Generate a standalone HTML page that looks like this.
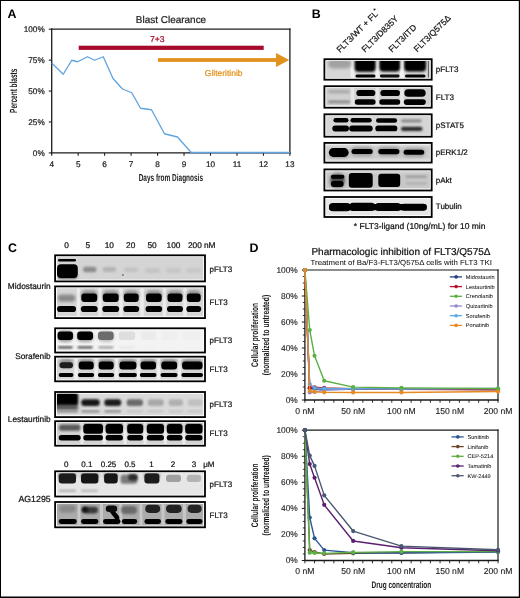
<!DOCTYPE html>
<html><head><meta charset="utf-8"><style>
html,body{margin:0;padding:0;background:#fff;}
body{width:520px;height:598px;overflow:hidden;font-family:"Liberation Sans", sans-serif;}
svg{display:block;will-change:transform;text-rendering:geometricPrecision;}
</style></head><body>
<svg width="520" height="598" viewBox="0 0 520 598" font-family='"Liberation Sans", sans-serif'><defs><filter id="bl3" x="-50%" y="-50%" width="200%" height="200%"><feGaussianBlur stdDeviation="0.3"/></filter><filter id="bl5" x="-50%" y="-50%" width="200%" height="200%"><feGaussianBlur stdDeviation="0.5"/></filter><filter id="bl6" x="-50%" y="-50%" width="200%" height="200%"><feGaussianBlur stdDeviation="0.6"/></filter><filter id="bl7" x="-50%" y="-50%" width="200%" height="200%"><feGaussianBlur stdDeviation="0.7"/></filter><filter id="bl8" x="-50%" y="-50%" width="200%" height="200%"><feGaussianBlur stdDeviation="0.8"/></filter><filter id="bl9" x="-50%" y="-50%" width="200%" height="200%"><feGaussianBlur stdDeviation="0.9"/></filter><filter id="bl10" x="-50%" y="-50%" width="200%" height="200%"><feGaussianBlur stdDeviation="1.0"/></filter><filter id="bl12" x="-50%" y="-50%" width="200%" height="200%"><feGaussianBlur stdDeviation="1.2"/></filter><filter id="bl15" x="-50%" y="-50%" width="200%" height="200%"><feGaussianBlur stdDeviation="1.5"/></filter><filter id="bl20" x="-50%" y="-50%" width="200%" height="200%"><feGaussianBlur stdDeviation="2.0"/></filter></defs><rect x="0" y="0" width="520" height="1" fill="#000" />
<rect x="0" y="0" width="1" height="598" fill="#000" />
<rect x="518.8" y="0" width="1.2" height="598" fill="#000" />
<rect x="0" y="596.5" width="520" height="1.5" fill="#000" />
<text x="7.6" y="17.9" font-size="12.4" text-anchor="start" fill="#000" font-weight="bold" >A</text>
<text x="135.8" y="23.4" font-size="9.97" text-anchor="start" fill="#222" font-weight="normal" stroke="#222" stroke-width="0.22" >Blast Clearance</text>
<line x1="51.7" y1="28.599999999999998" x2="51.7" y2="153.5" stroke="#1c1c1c" stroke-width="1.3" />
<line x1="51.1" y1="29.2" x2="290.5" y2="29.2" stroke="#1c1c1c" stroke-width="1.3" />
<line x1="289.9" y1="28.599999999999998" x2="289.9" y2="153.5" stroke="#1c1c1c" stroke-width="1.3" />
<line x1="51.1" y1="152.9" x2="290.5" y2="152.9" stroke="#1c1c1c" stroke-width="1.3" />
<line x1="48.8" y1="29.2" x2="51.7" y2="29.2" stroke="#1c1c1c" stroke-width="1.1" />
<text x="44.7" y="32.1" font-size="8.2" text-anchor="end" fill="#222" font-weight="normal" stroke="#222" stroke-width="0.22" >100%</text>
<line x1="48.8" y1="60.125" x2="51.7" y2="60.125" stroke="#1c1c1c" stroke-width="1.1" />
<text x="44.7" y="63.025" font-size="8.2" text-anchor="end" fill="#222" font-weight="normal" stroke="#222" stroke-width="0.22" >75%</text>
<line x1="48.8" y1="91.05" x2="51.7" y2="91.05" stroke="#1c1c1c" stroke-width="1.1" />
<text x="44.7" y="93.95" font-size="8.2" text-anchor="end" fill="#222" font-weight="normal" stroke="#222" stroke-width="0.22" >50%</text>
<line x1="48.8" y1="121.97500000000001" x2="51.7" y2="121.97500000000001" stroke="#1c1c1c" stroke-width="1.1" />
<text x="44.7" y="124.87500000000001" font-size="8.2" text-anchor="end" fill="#222" font-weight="normal" stroke="#222" stroke-width="0.22" >25%</text>
<line x1="48.8" y1="152.9" x2="51.7" y2="152.9" stroke="#1c1c1c" stroke-width="1.1" />
<text x="44.7" y="155.8" font-size="8.2" text-anchor="end" fill="#222" font-weight="normal" stroke="#222" stroke-width="0.22" >0%</text>
<line x1="51.7" y1="152.9" x2="51.7" y2="155.70000000000002" stroke="#1c1c1c" stroke-width="1.1" />
<text x="51.7" y="167.0" font-size="8.2" text-anchor="middle" fill="#222" font-weight="normal" stroke="#222" stroke-width="0.22" >4</text>
<line x1="78.16666666666667" y1="152.9" x2="78.16666666666667" y2="155.70000000000002" stroke="#1c1c1c" stroke-width="1.1" />
<text x="78.16666666666667" y="167.0" font-size="8.2" text-anchor="middle" fill="#222" font-weight="normal" stroke="#222" stroke-width="0.22" >5</text>
<line x1="104.63333333333333" y1="152.9" x2="104.63333333333333" y2="155.70000000000002" stroke="#1c1c1c" stroke-width="1.1" />
<text x="104.63333333333333" y="167.0" font-size="8.2" text-anchor="middle" fill="#222" font-weight="normal" stroke="#222" stroke-width="0.22" >6</text>
<line x1="131.1" y1="152.9" x2="131.1" y2="155.70000000000002" stroke="#1c1c1c" stroke-width="1.1" />
<text x="131.1" y="167.0" font-size="8.2" text-anchor="middle" fill="#222" font-weight="normal" stroke="#222" stroke-width="0.22" >7</text>
<line x1="157.56666666666666" y1="152.9" x2="157.56666666666666" y2="155.70000000000002" stroke="#1c1c1c" stroke-width="1.1" />
<text x="157.56666666666666" y="167.0" font-size="8.2" text-anchor="middle" fill="#222" font-weight="normal" stroke="#222" stroke-width="0.22" >8</text>
<line x1="184.03333333333336" y1="152.9" x2="184.03333333333336" y2="155.70000000000002" stroke="#1c1c1c" stroke-width="1.1" />
<text x="184.03333333333336" y="167.0" font-size="8.2" text-anchor="middle" fill="#222" font-weight="normal" stroke="#222" stroke-width="0.22" >9</text>
<line x1="210.5" y1="152.9" x2="210.5" y2="155.70000000000002" stroke="#1c1c1c" stroke-width="1.1" />
<text x="210.5" y="167.0" font-size="8.2" text-anchor="middle" fill="#222" font-weight="normal" stroke="#222" stroke-width="0.22" >10</text>
<line x1="236.96666666666664" y1="152.9" x2="236.96666666666664" y2="155.70000000000002" stroke="#1c1c1c" stroke-width="1.1" />
<text x="236.96666666666664" y="167.0" font-size="8.2" text-anchor="middle" fill="#222" font-weight="normal" stroke="#222" stroke-width="0.22" >11</text>
<line x1="263.43333333333334" y1="152.9" x2="263.43333333333334" y2="155.70000000000002" stroke="#1c1c1c" stroke-width="1.1" />
<text x="263.43333333333334" y="167.0" font-size="8.2" text-anchor="middle" fill="#222" font-weight="normal" stroke="#222" stroke-width="0.22" >12</text>
<line x1="289.9" y1="152.9" x2="289.9" y2="155.70000000000002" stroke="#1c1c1c" stroke-width="1.1" />
<text x="289.9" y="167.0" font-size="8.2" text-anchor="middle" fill="#222" font-weight="normal" stroke="#222" stroke-width="0.22" >13</text>
<text x="138.7" y="181.0" font-size="10.1" text-anchor="start" fill="#1a1a1a" font-weight="bold" textLength="64.3" lengthAdjust="spacingAndGlyphs">Days from Diagnosis</text>
<text transform="translate(17.2,112.9) rotate(-90)" font-size="10.3" font-weight="bold" fill="#1a1a1a" textLength="44.2" lengthAdjust="spacingAndGlyphs">Percent blasts</text>
<rect x="78.7" y="45.7" width="185.0" height="4.2" fill="#a80a2c" />
<text x="150.0" y="41.5" font-size="8.6" text-anchor="start" fill="#a80a2c" font-weight="normal" stroke="#a80a2c" stroke-width="0.22" >7+3</text>
<rect x="158.0" y="58.1" width="120" height="3.8" fill="#e2911d" />
<polygon points="276,53 289.2,60 276,67" fill="#e2911d"/>
<text x="204.8" y="76.2" font-size="8.5" text-anchor="start" fill="#e2911d" font-weight="normal" stroke="#e2911d" stroke-width="0.22" >Gilteritinib</text>
<polyline fill="none" stroke="#5fa3de" stroke-width="1.3" stroke-linejoin="round" points="51.7,63 63.25,74.25 71.75,60.25 77.5,61.75 87.5,56.75 94.5,60.25 103.25,56.75 113,78.5 122.5,89 131.75,92.75 140.5,108.25 151.5,109.75 164.5,133.75 177.5,137 191.25,152.5 290,152.5"/>
<text x="311.8" y="17.9" font-size="12.4" text-anchor="start" fill="#000" font-weight="bold" >B</text>
<text transform="translate(339.9,53.1) rotate(-45)" font-size="8.5" fill="#111" stroke="#111" stroke-width="0.22">FLT3/WT + FL<tspan font-size="5.5" dy="-3.6">*</tspan></text>
<text transform="translate(365.1,52.8) rotate(-45)" font-size="8.5" fill="#111" stroke="#111" stroke-width="0.22">FLT3/D835Y</text>
<text transform="translate(392.1,52.8) rotate(-45)" font-size="8.5" fill="#111" stroke="#111" stroke-width="0.22">FLT3/ITD</text>
<text transform="translate(417.3,52.5) rotate(-45)" font-size="8.5" fill="#111" stroke="#111" stroke-width="0.22">FLT3/Q575Δ</text>
<rect x="324.4" y="59.199999999999996" width="107.30000000000003" height="20.499999999999996" fill="#fff" stroke="#000" stroke-width="1.8"/>
<rect x="326.2" y="60.99999999999999" width="103.70000000000005" height="16.9" fill="#d6d6d6"/>
<clipPath id="c55"><rect x="326.2" y="60.99999999999999" width="103.70000000000005" height="16.9"/></clipPath>
<g clip-path="url(#c55)">

<rect x="350.50" y="58.00" width="4.00" height="23.00" rx="0.00" fill="#f0f0f0" filter="url(#bl2)"/>
<rect x="375.30" y="58.00" width="4.00" height="23.00" rx="0.00" fill="#f0f0f0" filter="url(#bl2)"/>
<rect x="400.00" y="58.00" width="4.00" height="23.00" rx="0.00" fill="#f0f0f0" filter="url(#bl2)"/>
<rect x="328.00" y="59.00" width="23.50" height="9.50" rx="4.75" fill="#a2a2a2" filter="url(#bl15)"/>
<rect x="354.60" y="57.00" width="21.00" height="14.80" rx="4.00" fill="#000" filter="url(#bl10)"/>
<rect x="379.40" y="57.00" width="20.60" height="14.40" rx="4.00" fill="#000" filter="url(#bl10)"/>
<rect x="404.20" y="57.00" width="21.80" height="14.60" rx="4.00" fill="#000" filter="url(#bl10)"/>
<rect x="355.50" y="74.40" width="20.00" height="3.20" rx="1.60" fill="#000" filter="url(#bl6)"/>
<rect x="380.00" y="74.50" width="19.50" height="2.90" rx="1.45" fill="#080808" filter="url(#bl6)"/>
<rect x="405.00" y="74.40" width="20.50" height="3.20" rx="1.60" fill="#000" filter="url(#bl6)"/>
<rect x="427.90" y="60.00" width="0.90" height="17.50" rx="0.00" fill="#444" filter="url(#bl3)"/>
</g>
<rect x="324.4" y="86.2" width="107.30000000000003" height="21.499999999999996" fill="#fff" stroke="#000" stroke-width="1.8"/>
<rect x="326.2" y="88.0" width="103.70000000000005" height="17.89999999999999" fill="#d0d0d0"/>
<clipPath id="c72"><rect x="326.2" y="88.0" width="103.70000000000005" height="17.89999999999999"/></clipPath>
<g clip-path="url(#c72)">
<rect x="324" y="105.4" width="108" height="3" fill="#eee"/>
<rect x="350.75" y="85.00" width="3.50" height="24.00" rx="0.00" fill="#e6e6e6" filter="url(#bl2)"/>
<rect x="375.55" y="85.00" width="3.50" height="24.00" rx="0.00" fill="#e6e6e6" filter="url(#bl2)"/>
<rect x="400.25" y="85.00" width="3.50" height="24.00" rx="0.00" fill="#e6e6e6" filter="url(#bl2)"/>
<rect x="328.00" y="89.80" width="22.00" height="3.70" rx="1.85" fill="#acacac" filter="url(#bl12)"/>
<rect x="328.00" y="100.60" width="22.00" height="2.60" rx="1.30" fill="#8a8a8a" filter="url(#bl10)"/>
<rect x="356.30" y="89.90" width="19.10" height="6.20" rx="3.10" fill="#000" filter="url(#bl6)"/>
<rect x="380.30" y="89.90" width="19.70" height="6.20" rx="3.10" fill="#050505" filter="url(#bl6)"/>
<rect x="404.30" y="89.20" width="21.40" height="7.60" rx="3.80" fill="#000" filter="url(#bl6)"/>
<rect x="354.80" y="99.30" width="20.80" height="5.40" rx="2.70" fill="#000" filter="url(#bl6)"/>
<rect x="379.30" y="99.30" width="20.90" height="5.40" rx="2.70" fill="#050505" filter="url(#bl6)"/>
<rect x="403.80" y="99.30" width="22.00" height="5.60" rx="2.80" fill="#000" filter="url(#bl6)"/>
</g>
<rect x="324.4" y="114.30000000000001" width="107.30000000000003" height="22.399999999999988" fill="#fff" stroke="#000" stroke-width="1.8"/>
<rect x="326.2" y="116.10000000000001" width="103.70000000000005" height="18.79999999999997" fill="#d6d6d6"/>
<clipPath id="c89"><rect x="326.2" y="116.10000000000001" width="103.70000000000005" height="18.79999999999997"/></clipPath>
<g clip-path="url(#c89)">

<rect x="333.40" y="118.00" width="15.10" height="4.60" rx="2.30" fill="#000" filter="url(#bl6)"/>
<rect x="350.40" y="118.00" width="21.30" height="4.60" rx="2.30" fill="#000" filter="url(#bl6)"/>
<rect x="376.00" y="118.30" width="21.10" height="4.50" rx="2.25" fill="#000" filter="url(#bl6)"/>
<rect x="401.00" y="119.20" width="20.70" height="3.20" rx="1.60" fill="#8c8c8c" filter="url(#bl12)"/>
<rect x="332.30" y="125.60" width="16.70" height="5.90" rx="2.95" fill="#000" filter="url(#bl6)"/>
<rect x="349.20" y="125.60" width="23.50" height="5.90" rx="2.95" fill="#000" filter="url(#bl6)"/>
<rect x="375.30" y="125.60" width="22.10" height="5.70" rx="2.85" fill="#000" filter="url(#bl6)"/>
<rect x="401.00" y="126.80" width="21.50" height="4.20" rx="2.10" fill="#2c2c2c" filter="url(#bl10)"/>
</g>
<rect x="324.4" y="142.9" width="107.30000000000003" height="19.7" fill="#fff" stroke="#000" stroke-width="1.8"/>
<rect x="326.2" y="144.70000000000002" width="103.70000000000005" height="16.099999999999966" fill="#cccccc"/>
<clipPath id="c103"><rect x="326.2" y="144.70000000000002" width="103.70000000000005" height="16.099999999999966"/></clipPath>
<g clip-path="url(#c103)">
<rect x="324" y="143" width="108" height="3" fill="#e4e4e4" filter="url(#bl15)"/><rect x="324" y="159.5" width="108" height="3" fill="#e8e8e8" filter="url(#bl15)"/>
<rect x="351.00" y="147.00" width="22.00" height="9.00" rx="4.50" fill="#9a9a9a" filter="url(#bl15)"/>
<rect x="378.00" y="147.00" width="22.00" height="9.00" rx="4.50" fill="#9a9a9a" filter="url(#bl15)"/>
<rect x="403.00" y="148.00" width="22.00" height="9.00" rx="4.50" fill="#a0a0a0" filter="url(#bl15)"/>
<rect x="330.00" y="154.00" width="18.00" height="4.00" rx="2.00" fill="#9a9a9a" filter="url(#bl15)"/>
<rect x="328.80" y="148.10" width="19.90" height="8.80" rx="4.40" fill="#000" filter="url(#bl6)"/>
<rect x="351.50" y="148.90" width="21.20" height="5.00" rx="2.50" fill="#000" filter="url(#bl6)"/>
<rect x="378.30" y="148.90" width="21.10" height="5.30" rx="2.65" fill="#000" filter="url(#bl6)"/>
<rect x="403.60" y="149.80" width="20.60" height="5.00" rx="2.50" fill="#000" filter="url(#bl6)"/>
</g>
<rect x="324.4" y="169.4" width="107.30000000000003" height="21.100000000000005" fill="#fff" stroke="#000" stroke-width="1.8"/>
<rect x="326.2" y="171.20000000000002" width="103.70000000000005" height="17.49999999999997" fill="#c8c8c8"/>
<clipPath id="c117"><rect x="326.2" y="171.20000000000002" width="103.70000000000005" height="17.49999999999997"/></clipPath>
<g clip-path="url(#c117)">
<rect x="324" y="188.4" width="108" height="1.5" fill="#f4f4f4"/><rect x="324" y="169" width="108" height="3" fill="#e0e0e0" filter="url(#bl15)"/>
<rect x="329.50" y="172.50" width="16.00" height="16.50" rx="8.00" fill="#8a8a8a" filter="url(#bl15)"/>
<rect x="331.00" y="176.00" width="13.00" height="8.00" rx="4.00" fill="#4a4a4a" filter="url(#bl12)"/>
<rect x="330.80" y="174.70" width="13.60" height="4.00" rx="2.00" fill="#000" filter="url(#bl6)"/>
<rect x="330.80" y="181.00" width="12.90" height="6.00" rx="3.00" fill="#050505" filter="url(#bl6)"/>
<rect x="348.80" y="173.10" width="23.90" height="14.60" rx="3.00" fill="#000" filter="url(#bl6)"/>
<rect x="378.30" y="173.70" width="21.90" height="13.40" rx="3.00" fill="#000" filter="url(#bl6)"/>
<rect x="405.60" y="175.40" width="21.30" height="2.50" rx="1.25" fill="#9c9c9c" filter="url(#bl12)"/>
<rect x="405.60" y="182.20" width="21.30" height="2.30" rx="1.15" fill="#adadad" filter="url(#bl12)"/>
</g>
<rect x="324.4" y="197.0" width="107.30000000000003" height="20.00000000000001" fill="#fff" stroke="#000" stroke-width="1.8"/>
<rect x="326.2" y="198.8" width="103.70000000000005" height="16.399999999999977" fill="#e8e8e8"/>
<clipPath id="c131"><rect x="326.2" y="198.8" width="103.70000000000005" height="16.399999999999977"/></clipPath>
<g clip-path="url(#c131)">

<rect x="329.00" y="204.10" width="97.70" height="6.20" rx="2.50" fill="#000" filter="url(#bl6)"/>
<rect x="329.00" y="203.00" width="21.70" height="8.30" rx="3.80" fill="#000" filter="url(#bl6)"/>
<rect x="349.30" y="202.70" width="25.90" height="8.40" rx="3.80" fill="#000" filter="url(#bl6)"/>
<rect x="374.80" y="203.00" width="26.40" height="8.10" rx="3.80" fill="#000" filter="url(#bl6)"/>
<rect x="400.80" y="203.70" width="25.90" height="7.00" rx="3.20" fill="#000" filter="url(#bl6)"/>
</g>
<text x="435.8" y="71.9" font-size="8.0" text-anchor="start" fill="#111" font-weight="normal" stroke="#111" stroke-width="0.22" >pFLT3</text>
<text x="435.8" y="99.7" font-size="8.0" text-anchor="start" fill="#111" font-weight="normal" stroke="#111" stroke-width="0.22" >FLT3</text>
<text x="435.8" y="127.7" font-size="8.0" text-anchor="start" fill="#111" font-weight="normal" stroke="#111" stroke-width="0.22" >pSTAT5</text>
<text x="435.8" y="155.2" font-size="8.0" text-anchor="start" fill="#111" font-weight="normal" stroke="#111" stroke-width="0.22" >pERK1/2</text>
<text x="435.8" y="182.7" font-size="8.0" text-anchor="start" fill="#111" font-weight="normal" stroke="#111" stroke-width="0.22" >pAkt</text>
<text x="435.8" y="208.8" font-size="8.0" text-anchor="start" fill="#111" font-weight="normal" stroke="#111" stroke-width="0.22" >Tubulin</text>
<text x="353.8" y="228.5" font-size="8.5" text-anchor="start" fill="#111" font-weight="normal" stroke="#111" stroke-width="0.22" >* FLT3-ligand (10ng/mL) for 10 min</text>
<text x="8.0" y="252.0" font-size="12.4" text-anchor="start" fill="#000" font-weight="bold" >C</text>
<text x="66.5" y="247.9" font-size="8.3" text-anchor="middle" fill="#111" font-weight="normal" stroke="#111" stroke-width="0.22" >0</text>
<text x="87.9" y="247.9" font-size="8.3" text-anchor="middle" fill="#111" font-weight="normal" stroke="#111" stroke-width="0.22" >5</text>
<text x="109.3" y="247.9" font-size="8.3" text-anchor="middle" fill="#111" font-weight="normal" stroke="#111" stroke-width="0.22" >10</text>
<text x="130.7" y="247.9" font-size="8.3" text-anchor="middle" fill="#111" font-weight="normal" stroke="#111" stroke-width="0.22" >20</text>
<text x="152.1" y="247.9" font-size="8.3" text-anchor="middle" fill="#111" font-weight="normal" stroke="#111" stroke-width="0.22" >50</text>
<text x="173.5" y="247.9" font-size="8.3" text-anchor="middle" fill="#111" font-weight="normal" stroke="#111" stroke-width="0.22" >100</text>
<text x="194.89999999999998" y="247.9" font-size="8.3" text-anchor="middle" fill="#111" font-weight="normal" stroke="#111" stroke-width="0.22" >200</text>
<text x="203.9" y="247.9" font-size="8.3" text-anchor="start" fill="#111" font-weight="normal" stroke="#111" stroke-width="0.22" >nM</text>
<rect x="55.1" y="255.3" width="149.89999999999998" height="26.100000000000005" fill="#fff" stroke="#000" stroke-width="1.8"/>
<rect x="56.9" y="257.09999999999997" width="146.29999999999998" height="22.500000000000057" fill="#d4d4d4"/>
<clipPath id="c158"><rect x="56.9" y="257.09999999999997" width="146.29999999999998" height="22.500000000000057"/></clipPath>
<g clip-path="url(#c158)">

<rect x="58.00" y="258.90" width="18.00" height="2.70" rx="1.35" fill="#000" filter="url(#bl6)"/>
<rect x="57.80" y="272.00" width="19.50" height="9.00" rx="4.50" fill="#8a8a8a" filter="url(#bl12)"/>
<rect x="57.00" y="264.30" width="20.80" height="13.60" rx="4.00" fill="#000" filter="url(#bl6)"/>
<rect x="83.00" y="266.80" width="13.50" height="5.40" rx="2.70" fill="#8c8c8c" filter="url(#bl12)"/>
<rect x="102.60" y="267.00" width="13.40" height="5.00" rx="2.50" fill="#b4b4b4" filter="url(#bl12)"/>
<rect x="124.00" y="267.50" width="14.00" height="4.50" rx="2.25" fill="#c2c2c2" filter="url(#bl12)"/>
<rect x="145.00" y="268.00" width="15.00" height="5.00" rx="2.50" fill="#c4c4c4" filter="url(#bl12)"/>
<rect x="166.00" y="268.00" width="15.00" height="5.00" rx="2.50" fill="#c6c6c6" filter="url(#bl12)"/>
<rect x="186.00" y="268.00" width="15.00" height="5.00" rx="2.50" fill="#c8c8c8" filter="url(#bl12)"/>
<rect x="122.30" y="274.30" width="1.20" height="1.20" rx="0.50" fill="#111" filter="url(#bl3)"/>
</g>
<rect x="55.1" y="286.4" width="149.89999999999998" height="31.7" fill="#fff" stroke="#000" stroke-width="1.8"/>
<rect x="56.9" y="288.2" width="146.29999999999998" height="28.100000000000023" fill="#d6d6d6"/>
<clipPath id="c174"><rect x="56.9" y="288.2" width="146.29999999999998" height="28.100000000000023"/></clipPath>
<g clip-path="url(#c174)">

<rect x="76.75" y="286.00" width="3.50" height="33.00" rx="0.00" fill="#ececec" filter="url(#bl2)"/>
<rect x="98.25" y="286.00" width="3.50" height="33.00" rx="0.00" fill="#ececec" filter="url(#bl2)"/>
<rect x="119.25" y="286.00" width="3.50" height="33.00" rx="0.00" fill="#ececec" filter="url(#bl2)"/>
<rect x="140.25" y="286.00" width="3.50" height="33.00" rx="0.00" fill="#ececec" filter="url(#bl2)"/>
<rect x="162.75" y="286.00" width="3.50" height="33.00" rx="0.00" fill="#ececec" filter="url(#bl2)"/>
<rect x="183.25" y="286.00" width="3.50" height="33.00" rx="0.00" fill="#ececec" filter="url(#bl2)"/>
<rect x="57.70" y="294.60" width="17.70" height="7.20" rx="3.60" fill="#8a8a8a" filter="url(#bl15)"/>
<rect x="57.00" y="305.90" width="19.10" height="6.20" rx="3.10" fill="#000" filter="url(#bl6)"/>
<rect x="81.00" y="290.50" width="16.50" height="9.50" rx="4.75" fill="#8c8c8c" filter="url(#bl15)"/>
<rect x="81.30" y="293.50" width="15.90" height="8.60" rx="3.00" fill="#000" filter="url(#bl6)"/>
<rect x="80.80" y="305.90" width="16.90" height="6.20" rx="3.10" fill="#000" filter="url(#bl6)"/>
<rect x="102.50" y="290.50" width="16.50" height="9.50" rx="4.75" fill="#8c8c8c" filter="url(#bl15)"/>
<rect x="102.80" y="293.50" width="15.90" height="8.60" rx="3.00" fill="#000" filter="url(#bl6)"/>
<rect x="102.30" y="305.90" width="16.90" height="6.20" rx="3.10" fill="#000" filter="url(#bl6)"/>
<rect x="123.50" y="290.50" width="15.50" height="9.50" rx="4.75" fill="#8c8c8c" filter="url(#bl15)"/>
<rect x="123.80" y="293.50" width="14.90" height="8.60" rx="3.00" fill="#000" filter="url(#bl6)"/>
<rect x="123.30" y="305.90" width="15.90" height="6.20" rx="3.10" fill="#000" filter="url(#bl6)"/>
<rect x="145.70" y="290.50" width="16.30" height="9.50" rx="4.75" fill="#8c8c8c" filter="url(#bl15)"/>
<rect x="146.00" y="293.50" width="15.70" height="8.60" rx="3.00" fill="#000" filter="url(#bl6)"/>
<rect x="145.50" y="305.90" width="16.70" height="6.20" rx="3.10" fill="#000" filter="url(#bl6)"/>
<rect x="167.20" y="290.50" width="15.60" height="9.50" rx="4.75" fill="#8c8c8c" filter="url(#bl15)"/>
<rect x="167.50" y="293.50" width="15.00" height="8.60" rx="3.00" fill="#000" filter="url(#bl6)"/>
<rect x="167.00" y="305.90" width="16.00" height="6.20" rx="3.10" fill="#000" filter="url(#bl6)"/>
<rect x="186.50" y="290.50" width="14.50" height="9.50" rx="4.75" fill="#8c8c8c" filter="url(#bl15)"/>
<rect x="186.80" y="293.50" width="13.90" height="8.60" rx="3.00" fill="#000" filter="url(#bl6)"/>
<rect x="186.30" y="305.90" width="14.90" height="6.20" rx="3.10" fill="#000" filter="url(#bl6)"/>
</g>
<rect x="55.1" y="328.29999999999995" width="149.89999999999998" height="24.2" fill="#fff" stroke="#000" stroke-width="1.8"/>
<rect x="56.9" y="330.09999999999997" width="146.29999999999998" height="20.600000000000023" fill="#f3f3f3"/>
<clipPath id="c206"><rect x="56.9" y="330.09999999999997" width="146.29999999999998" height="20.600000000000023"/></clipPath>
<g clip-path="url(#c206)">

<rect x="57.00" y="330.50" width="16.50" height="11.50" rx="5.75" fill="#9a9a9a" filter="url(#bl15)"/>
<rect x="77.00" y="331.50" width="16.50" height="10.50" rx="5.25" fill="#a0a0a0" filter="url(#bl15)"/>
<rect x="98.00" y="331.50" width="16.00" height="10.50" rx="5.25" fill="#c0c0c0" filter="url(#bl15)"/>
<rect x="57.60" y="331.50" width="15.40" height="8.60" rx="3.00" fill="#000" filter="url(#bl6)"/>
<rect x="57.80" y="346.20" width="15.00" height="2.20" rx="1.10" fill="#4a4a4a" filter="url(#bl8)"/>
<rect x="77.20" y="331.50" width="15.80" height="8.60" rx="3.00" fill="#000" filter="url(#bl6)"/>
<rect x="77.40" y="346.20" width="15.40" height="2.20" rx="1.10" fill="#505050" filter="url(#bl8)"/>
<rect x="98.00" y="331.50" width="15.70" height="8.60" rx="3.00" fill="#6c6c6c" filter="url(#bl6)"/>
<rect x="98.20" y="346.20" width="15.30" height="2.20" rx="1.10" fill="#9a9a9a" filter="url(#bl8)"/>
<rect x="118.80" y="331.50" width="16.40" height="8.60" rx="3.00" fill="#dedede" filter="url(#bl6)"/>
<rect x="119.00" y="346.20" width="16.00" height="2.20" rx="1.10" fill="#e6e6e6" filter="url(#bl8)"/>
<rect x="140.60" y="331.50" width="15.40" height="8.60" rx="3.00" fill="#ebebeb" filter="url(#bl6)"/>
<rect x="140.80" y="346.20" width="15.00" height="2.20" rx="1.10" fill="#f0f0f0" filter="url(#bl8)"/>
<rect x="161.30" y="331.50" width="15.80" height="8.60" rx="3.00" fill="#efefef" filter="url(#bl6)"/>
<rect x="161.50" y="346.20" width="15.40" height="2.20" rx="1.10" fill="#f2f2f2" filter="url(#bl8)"/>
<rect x="182.80" y="331.50" width="18.40" height="8.60" rx="3.00" fill="#efefef" filter="url(#bl6)"/>
<rect x="183.00" y="346.20" width="18.00" height="2.20" rx="1.10" fill="#f2f2f2" filter="url(#bl8)"/>
</g>
<rect x="55.1" y="356.7" width="149.89999999999998" height="24.599999999999977" fill="#fff" stroke="#000" stroke-width="1.8"/>
<rect x="56.9" y="358.5" width="146.29999999999998" height="21.0" fill="#d6d6d6"/>
<clipPath id="c229"><rect x="56.9" y="358.5" width="146.29999999999998" height="21.0"/></clipPath>
<g clip-path="url(#c229)">

<rect x="74.25" y="356.00" width="3.50" height="26.00" rx="0.00" fill="#eeeeee" filter="url(#bl2)"/>
<rect x="94.45" y="356.00" width="3.50" height="26.00" rx="0.00" fill="#eeeeee" filter="url(#bl2)"/>
<rect x="114.85" y="356.00" width="3.50" height="26.00" rx="0.00" fill="#eeeeee" filter="url(#bl2)"/>
<rect x="136.75" y="356.00" width="3.50" height="26.00" rx="0.00" fill="#eeeeee" filter="url(#bl2)"/>
<rect x="156.85" y="356.00" width="3.50" height="26.00" rx="0.00" fill="#eeeeee" filter="url(#bl2)"/>
<rect x="177.85" y="356.00" width="3.50" height="26.00" rx="0.00" fill="#eeeeee" filter="url(#bl2)"/>
<rect x="59.20" y="359.00" width="14.10" height="9.00" rx="4.50" fill="#909090" filter="url(#bl15)"/>
<rect x="59.50" y="362.20" width="13.50" height="6.10" rx="3.00" fill="#1c1c1c" filter="url(#bl6)"/>
<rect x="58.70" y="373.00" width="14.80" height="3.90" rx="1.95" fill="#000" filter="url(#bl6)"/>
<rect x="78.40" y="359.00" width="15.60" height="9.00" rx="4.50" fill="#909090" filter="url(#bl15)"/>
<rect x="78.70" y="361.50" width="15.00" height="8.00" rx="3.00" fill="#000" filter="url(#bl6)"/>
<rect x="77.90" y="373.00" width="16.30" height="3.90" rx="1.95" fill="#000" filter="url(#bl6)"/>
<rect x="98.40" y="359.00" width="15.60" height="9.00" rx="4.50" fill="#909090" filter="url(#bl15)"/>
<rect x="98.70" y="361.50" width="15.00" height="8.00" rx="3.00" fill="#000" filter="url(#bl6)"/>
<rect x="97.90" y="373.00" width="16.30" height="3.90" rx="1.95" fill="#000" filter="url(#bl6)"/>
<rect x="119.20" y="359.00" width="17.50" height="9.00" rx="4.50" fill="#909090" filter="url(#bl15)"/>
<rect x="119.50" y="361.50" width="16.90" height="8.00" rx="3.00" fill="#000" filter="url(#bl6)"/>
<rect x="118.70" y="373.00" width="18.20" height="3.90" rx="1.95" fill="#000" filter="url(#bl6)"/>
<rect x="140.30" y="359.00" width="16.00" height="9.00" rx="4.50" fill="#909090" filter="url(#bl15)"/>
<rect x="140.60" y="361.50" width="15.40" height="8.00" rx="3.00" fill="#000" filter="url(#bl6)"/>
<rect x="139.80" y="373.00" width="16.70" height="3.90" rx="1.95" fill="#000" filter="url(#bl6)"/>
<rect x="161.00" y="359.00" width="16.40" height="9.00" rx="4.50" fill="#909090" filter="url(#bl15)"/>
<rect x="161.30" y="361.50" width="15.80" height="8.00" rx="3.00" fill="#000" filter="url(#bl6)"/>
<rect x="160.50" y="373.00" width="17.10" height="3.90" rx="1.95" fill="#000" filter="url(#bl6)"/>
<rect x="181.80" y="359.00" width="21.00" height="9.00" rx="4.50" fill="#909090" filter="url(#bl15)"/>
<rect x="182.10" y="361.50" width="20.40" height="8.00" rx="3.00" fill="#000" filter="url(#bl6)"/>
<rect x="181.30" y="373.00" width="21.70" height="3.90" rx="1.95" fill="#000" filter="url(#bl6)"/>
</g>
<rect x="55.1" y="392.0" width="149.89999999999998" height="25.099999999999977" fill="#fff" stroke="#000" stroke-width="1.8"/>
<rect x="56.9" y="393.8" width="146.29999999999998" height="21.5" fill="#dadada"/>
<clipPath id="c262"><rect x="56.9" y="393.8" width="146.29999999999998" height="21.5"/></clipPath>
<g clip-path="url(#c262)">

<rect x="54.50" y="392.00" width="23.70" height="14.50" rx="4.00" fill="#000" filter="url(#bl10)"/>
<rect x="54.50" y="405.00" width="23.70" height="5.00" rx="2.50" fill="#555" filter="url(#bl15)"/>
<rect x="56.50" y="410.20" width="21.70" height="2.20" rx="1.10" fill="#8a8a8a" filter="url(#bl10)"/>
<rect x="81.20" y="399.30" width="18.50" height="6.60" rx="3.00" fill="#151515" filter="url(#bl10)"/>
<rect x="81.20" y="410.20" width="18.50" height="2.20" rx="1.10" fill="#8a8a8a" filter="url(#bl10)"/>
<rect x="104.30" y="399.30" width="16.90" height="6.60" rx="3.00" fill="#1c1c1c" filter="url(#bl10)"/>
<rect x="104.30" y="410.20" width="16.90" height="2.20" rx="1.10" fill="#8a8a8a" filter="url(#bl10)"/>
<rect x="126.60" y="399.30" width="16.40" height="6.60" rx="3.00" fill="#6a6a6a" filter="url(#bl10)"/>
<rect x="126.60" y="410.20" width="16.40" height="2.20" rx="1.10" fill="#c4c4c4" filter="url(#bl10)"/>
<rect x="147.70" y="399.30" width="16.10" height="6.60" rx="3.00" fill="#a8a8a8" filter="url(#bl10)"/>
<rect x="147.70" y="410.20" width="16.10" height="2.20" rx="1.10" fill="#c4c4c4" filter="url(#bl10)"/>
<rect x="168.50" y="399.30" width="14.50" height="6.60" rx="3.00" fill="#b0b0b0" filter="url(#bl10)"/>
<rect x="168.50" y="410.20" width="14.50" height="2.20" rx="1.10" fill="#c4c4c4" filter="url(#bl10)"/>
<rect x="187.70" y="399.30" width="14.60" height="6.60" rx="3.00" fill="#c0c0c0" filter="url(#bl10)"/>
<rect x="187.70" y="410.20" width="14.60" height="2.20" rx="1.10" fill="#c4c4c4" filter="url(#bl10)"/>
</g>
<rect x="55.1" y="421.2" width="149.89999999999998" height="24.50000000000001" fill="#fff" stroke="#000" stroke-width="1.8"/>
<rect x="56.9" y="423.0" width="146.29999999999998" height="20.900000000000034" fill="#d2d2d2"/>
<clipPath id="c283"><rect x="56.9" y="423.0" width="146.29999999999998" height="20.900000000000034"/></clipPath>
<g clip-path="url(#c283)">

<rect x="80.50" y="420.00" width="3.00" height="27.00" rx="0.00" fill="#ececec" filter="url(#bl2)"/>
<rect x="102.80" y="420.00" width="3.00" height="27.00" rx="0.00" fill="#ececec" filter="url(#bl2)"/>
<rect x="123.60" y="420.00" width="3.00" height="27.00" rx="0.00" fill="#ececec" filter="url(#bl2)"/>
<rect x="143.50" y="420.00" width="3.00" height="27.00" rx="0.00" fill="#ececec" filter="url(#bl2)"/>
<rect x="163.90" y="420.00" width="3.00" height="27.00" rx="0.00" fill="#ececec" filter="url(#bl2)"/>
<rect x="182.40" y="420.00" width="3.00" height="27.00" rx="0.00" fill="#ececec" filter="url(#bl2)"/>
<rect x="58.90" y="424.50" width="21.60" height="6.30" rx="3.15" fill="#5a5a5a" filter="url(#bl12)"/>
<rect x="58.70" y="435.10" width="22.00" height="5.40" rx="2.70" fill="#000" filter="url(#bl6)"/>
<rect x="83.00" y="422.50" width="20.30" height="9.50" rx="4.75" fill="#8a8a8a" filter="url(#bl15)"/>
<rect x="83.30" y="423.90" width="19.70" height="9.90" rx="3.00" fill="#000" filter="url(#bl6)"/>
<rect x="83.30" y="435.10" width="19.70" height="5.40" rx="2.70" fill="#000" filter="url(#bl6)"/>
<rect x="105.30" y="422.50" width="18.00" height="9.50" rx="4.75" fill="#8a8a8a" filter="url(#bl15)"/>
<rect x="105.60" y="423.90" width="17.40" height="9.90" rx="3.00" fill="#000" filter="url(#bl6)"/>
<rect x="105.60" y="435.10" width="17.40" height="5.40" rx="2.70" fill="#000" filter="url(#bl6)"/>
<rect x="126.90" y="422.50" width="16.60" height="9.50" rx="4.75" fill="#8a8a8a" filter="url(#bl15)"/>
<rect x="127.20" y="423.90" width="16.00" height="9.90" rx="3.00" fill="#000" filter="url(#bl6)"/>
<rect x="127.20" y="435.10" width="16.00" height="5.40" rx="2.70" fill="#000" filter="url(#bl6)"/>
<rect x="146.50" y="422.50" width="17.80" height="9.50" rx="4.75" fill="#8a8a8a" filter="url(#bl15)"/>
<rect x="146.80" y="423.90" width="17.20" height="9.90" rx="3.00" fill="#000" filter="url(#bl6)"/>
<rect x="146.80" y="435.10" width="17.20" height="5.40" rx="2.70" fill="#000" filter="url(#bl6)"/>
<rect x="166.50" y="422.50" width="16.30" height="9.50" rx="4.75" fill="#8a8a8a" filter="url(#bl15)"/>
<rect x="166.80" y="423.90" width="15.70" height="9.90" rx="3.00" fill="#000" filter="url(#bl6)"/>
<rect x="166.80" y="435.10" width="15.70" height="5.40" rx="2.70" fill="#000" filter="url(#bl6)"/>
<rect x="184.90" y="422.50" width="17.90" height="9.50" rx="4.75" fill="#8a8a8a" filter="url(#bl15)"/>
<rect x="185.20" y="423.90" width="17.30" height="9.90" rx="3.00" fill="#000" filter="url(#bl6)"/>
<rect x="185.20" y="435.10" width="17.30" height="5.40" rx="2.70" fill="#000" filter="url(#bl6)"/>
</g>
<text x="66.3" y="467.3" font-size="8.0" text-anchor="middle" fill="#111" font-weight="normal" stroke="#111" stroke-width="0.22" >0</text>
<text x="86.9" y="467.3" font-size="8.0" text-anchor="middle" fill="#111" font-weight="normal" stroke="#111" stroke-width="0.22" >0.1</text>
<text x="108.5" y="467.3" font-size="8.0" text-anchor="middle" fill="#111" font-weight="normal" stroke="#111" stroke-width="0.22" >0.25</text>
<text x="130.0" y="467.3" font-size="8.0" text-anchor="middle" fill="#111" font-weight="normal" stroke="#111" stroke-width="0.22" >0.5</text>
<text x="151.5" y="467.3" font-size="8.0" text-anchor="middle" fill="#111" font-weight="normal" stroke="#111" stroke-width="0.22" >1</text>
<text x="173.0" y="467.3" font-size="8.0" text-anchor="middle" fill="#111" font-weight="normal" stroke="#111" stroke-width="0.22" >2</text>
<text x="194.0" y="467.3" font-size="8.0" text-anchor="middle" fill="#111" font-weight="normal" stroke="#111" stroke-width="0.22" >3</text>
<text x="203.2" y="467.3" font-size="8.0" text-anchor="start" fill="#111" font-weight="normal" stroke="#111" stroke-width="0.22" >μM</text>
<rect x="55.1" y="471.29999999999995" width="149.89999999999998" height="25.2" fill="#fff" stroke="#000" stroke-width="1.8"/>
<rect x="56.9" y="473.09999999999997" width="146.29999999999998" height="21.600000000000023" fill="#e6e6e6"/>
<clipPath id="c323"><rect x="56.9" y="473.09999999999997" width="146.29999999999998" height="21.600000000000023"/></clipPath>
<g clip-path="url(#c323)">

<rect x="58.40" y="471.00" width="17.90" height="9.00" rx="4.50" fill="#8a8a8a" filter="url(#bl15)"/>
<rect x="58.70" y="473.60" width="17.30" height="9.90" rx="3.00" fill="#1a1a1a" filter="url(#bl6)"/>
<rect x="80.70" y="471.00" width="18.00" height="9.00" rx="4.50" fill="#8a8a8a" filter="url(#bl15)"/>
<rect x="81.00" y="473.60" width="17.40" height="9.90" rx="3.00" fill="#151515" filter="url(#bl6)"/>
<rect x="103.80" y="471.00" width="14.20" height="9.00" rx="4.50" fill="#8a8a8a" filter="url(#bl15)"/>
<rect x="104.10" y="473.60" width="13.60" height="9.90" rx="3.00" fill="#151515" filter="url(#bl6)"/>
<rect x="144.10" y="471.00" width="15.60" height="9.00" rx="4.50" fill="#8a8a8a" filter="url(#bl15)"/>
<rect x="144.40" y="473.60" width="15.00" height="9.90" rx="3.00" fill="#1a1a1a" filter="url(#bl6)"/>
<rect x="166.00" y="474.70" width="15.00" height="7.40" rx="3.00" fill="#a0a0a0" filter="url(#bl6)"/>
<rect x="186.80" y="474.70" width="14.20" height="7.40" rx="3.00" fill="#b4b4b4" filter="url(#bl6)"/>
<rect x="59.00" y="489.80" width="17.00" height="2.00" rx="1.00" fill="#a8a8a8" filter="url(#bl10)"/>
<rect x="81.00" y="489.80" width="17.00" height="2.00" rx="1.00" fill="#b4b4b4" filter="url(#bl10)"/>
<rect x="91.50" y="481.50" width="1.50" height="1.50" rx="0.70" fill="#111" filter="url(#bl3)"/>
<rect x="120.50" y="474.50" width="16.90" height="9.30" rx="3.00" fill="#7a7a7a" filter="url(#bl12)"/>
<rect x="128.50" y="474.20" width="8.90" height="6.30" rx="2.00" fill="#2a2a2a" filter="url(#bl8)"/>
</g>
<rect x="55.1" y="502.0" width="149.89999999999998" height="25.300000000000022" fill="#fff" stroke="#000" stroke-width="1.8"/>
<rect x="56.9" y="503.8" width="146.29999999999998" height="21.700000000000102" fill="#ababab"/>
<clipPath id="c344"><rect x="56.9" y="503.8" width="146.29999999999998" height="21.700000000000102"/></clipPath>
<g clip-path="url(#c344)">
<polygon points="109,511 114.5,511 121,518.5 116,520" fill="#050505" filter="url(#bl6)"/>
<rect x="77.50" y="501.00" width="3.00" height="28.00" rx="0.00" fill="#c8c8c8" filter="url(#bl2)"/>
<rect x="100.00" y="501.00" width="3.00" height="28.00" rx="0.00" fill="#c8c8c8" filter="url(#bl2)"/>
<rect x="119.30" y="501.00" width="3.00" height="28.00" rx="0.00" fill="#c8c8c8" filter="url(#bl2)"/>
<rect x="139.50" y="501.00" width="3.00" height="28.00" rx="0.00" fill="#c8c8c8" filter="url(#bl2)"/>
<rect x="161.50" y="501.00" width="3.00" height="28.00" rx="0.00" fill="#c8c8c8" filter="url(#bl2)"/>
<rect x="182.90" y="501.00" width="3.00" height="28.00" rx="0.00" fill="#c8c8c8" filter="url(#bl2)"/>
<rect x="59.00" y="505.00" width="17.00" height="7.50" rx="3.75" fill="#888" filter="url(#bl15)"/>
<rect x="82.00" y="506.80" width="16.00" height="6.60" rx="3.30" fill="#3a3a3a" filter="url(#bl10)"/>
<rect x="82.00" y="507.00" width="6.00" height="5.00" rx="2.50" fill="#111" filter="url(#bl8)"/>
<rect x="105.80" y="505.60" width="11.40" height="6.50" rx="3.25" fill="#080808" filter="url(#bl6)"/>
<rect x="121.00" y="506.00" width="16.00" height="8.00" rx="4.00" fill="#6a6a6a" filter="url(#bl12)"/>
<rect x="145.20" y="504.70" width="15.00" height="8.20" rx="4.10" fill="#202020" filter="url(#bl6)"/>
<rect x="166.00" y="504.70" width="15.70" height="8.20" rx="4.10" fill="#202020" filter="url(#bl6)"/>
<rect x="187.50" y="504.70" width="14.20" height="8.20" rx="4.10" fill="#282828" filter="url(#bl6)"/>
<rect x="58.70" y="519.10" width="18.10" height="4.80" rx="2.40" fill="#000" filter="url(#bl6)"/>
<rect x="81.00" y="519.10" width="17.40" height="4.80" rx="2.40" fill="#000" filter="url(#bl6)"/>
<rect x="103.00" y="519.10" width="17.50" height="4.80" rx="2.40" fill="#000" filter="url(#bl6)"/>
<rect x="121.80" y="519.10" width="15.40" height="4.80" rx="2.40" fill="#000" filter="url(#bl6)"/>
<rect x="144.40" y="519.10" width="16.60" height="4.80" rx="2.40" fill="#000" filter="url(#bl6)"/>
<rect x="165.30" y="519.10" width="17.20" height="4.80" rx="2.40" fill="#000" filter="url(#bl6)"/>
<rect x="186.30" y="519.10" width="16.20" height="4.80" rx="2.40" fill="#000" filter="url(#bl6)"/>
</g>
<text x="209.6" y="271.8" font-size="8.0" text-anchor="start" fill="#111" font-weight="normal" stroke="#111" stroke-width="0.22" >pFLT3</text>
<text x="209.6" y="305.2" font-size="8.0" text-anchor="start" fill="#111" font-weight="normal" stroke="#111" stroke-width="0.22" >FLT3</text>
<text x="209.6" y="343.3" font-size="8.0" text-anchor="start" fill="#111" font-weight="normal" stroke="#111" stroke-width="0.22" >pFLT3</text>
<text x="209.6" y="372.3" font-size="8.0" text-anchor="start" fill="#111" font-weight="normal" stroke="#111" stroke-width="0.22" >FLT3</text>
<text x="209.6" y="407.0" font-size="8.0" text-anchor="start" fill="#111" font-weight="normal" stroke="#111" stroke-width="0.22" >pFLT3</text>
<text x="209.6" y="436.3" font-size="8.0" text-anchor="start" fill="#111" font-weight="normal" stroke="#111" stroke-width="0.22" >FLT3</text>
<text x="209.6" y="487.3" font-size="8.0" text-anchor="start" fill="#111" font-weight="normal" stroke="#111" stroke-width="0.22" >pFLT3</text>
<text x="209.6" y="518.0" font-size="8.0" text-anchor="start" fill="#111" font-weight="normal" stroke="#111" stroke-width="0.22" >FLT3</text>
<text x="50.7" y="289.4" font-size="8.3" text-anchor="end" fill="#111" font-weight="normal" stroke="#111" stroke-width="0.22" >Midostaurin</text>
<text x="50.7" y="358.5" font-size="8.3" text-anchor="end" fill="#111" font-weight="normal" stroke="#111" stroke-width="0.22" >Sorafenib</text>
<text x="50.7" y="421.9" font-size="8.3" text-anchor="end" fill="#111" font-weight="normal" stroke="#111" stroke-width="0.22" >Lestaurtinib</text>
<text x="50.7" y="502.3" font-size="8.8" text-anchor="end" fill="#111" font-weight="normal" stroke="#111" stroke-width="0.22" >AG1295</text>
<text x="249.4" y="252.0" font-size="12.4" text-anchor="start" fill="#000" font-weight="bold" >D</text>
<text x="311.4" y="255.2" font-size="10.0" text-anchor="start" fill="#111" font-weight="normal" stroke="#111" stroke-width="0.22" textLength="179.1" lengthAdjust="spacingAndGlyphs">Pharmacologic inhibition of FLT3/Q575Δ</text>
<text x="310.6" y="264.6" font-size="7.4" text-anchor="start" fill="#111" font-weight="normal" stroke="#111" stroke-width="0.04" textLength="181.3" lengthAdjust="spacingAndGlyphs">Treatment of Ba/F3-FLT3/Q575Δ cells with FLT3 TKI</text>
<line x1="304.9" y1="269.4" x2="304.9" y2="400.6" stroke="#1a1a1a" stroke-width="1.3" />
<line x1="304.29999999999995" y1="270.0" x2="498.6" y2="270.0" stroke="#1a1a1a" stroke-width="1.2" />
<line x1="498.0" y1="269.4" x2="498.0" y2="400.6" stroke="#1a1a1a" stroke-width="1.2" />
<line x1="304.29999999999995" y1="400.0" x2="498.6" y2="400.0" stroke="#1a1a1a" stroke-width="1.3" />
<line x1="301.8" y1="400.0" x2="304.9" y2="400.0" stroke="#1a1a1a" stroke-width="1.0" />
<text x="297.8" y="402.9" font-size="8.4" text-anchor="end" fill="#222" font-weight="normal" stroke="#222" stroke-width="0.12" >0%</text>
<line x1="302.8" y1="393.5" x2="304.9" y2="393.5" stroke="#1a1a1a" stroke-width="0.9" />
<line x1="302.8" y1="387.0" x2="304.9" y2="387.0" stroke="#1a1a1a" stroke-width="0.9" />
<line x1="302.8" y1="380.5" x2="304.9" y2="380.5" stroke="#1a1a1a" stroke-width="0.9" />
<line x1="301.8" y1="374.0" x2="304.9" y2="374.0" stroke="#1a1a1a" stroke-width="1.0" />
<text x="297.8" y="376.9" font-size="8.4" text-anchor="end" fill="#222" font-weight="normal" stroke="#222" stroke-width="0.12" >20%</text>
<line x1="302.8" y1="367.5" x2="304.9" y2="367.5" stroke="#1a1a1a" stroke-width="0.9" />
<line x1="302.8" y1="361.0" x2="304.9" y2="361.0" stroke="#1a1a1a" stroke-width="0.9" />
<line x1="302.8" y1="354.5" x2="304.9" y2="354.5" stroke="#1a1a1a" stroke-width="0.9" />
<line x1="301.8" y1="348.0" x2="304.9" y2="348.0" stroke="#1a1a1a" stroke-width="1.0" />
<text x="297.8" y="350.9" font-size="8.4" text-anchor="end" fill="#222" font-weight="normal" stroke="#222" stroke-width="0.12" >40%</text>
<line x1="302.8" y1="341.5" x2="304.9" y2="341.5" stroke="#1a1a1a" stroke-width="0.9" />
<line x1="302.8" y1="335.0" x2="304.9" y2="335.0" stroke="#1a1a1a" stroke-width="0.9" />
<line x1="302.8" y1="328.5" x2="304.9" y2="328.5" stroke="#1a1a1a" stroke-width="0.9" />
<line x1="301.8" y1="322.0" x2="304.9" y2="322.0" stroke="#1a1a1a" stroke-width="1.0" />
<text x="297.8" y="324.9" font-size="8.4" text-anchor="end" fill="#222" font-weight="normal" stroke="#222" stroke-width="0.12" >60%</text>
<line x1="302.8" y1="315.5" x2="304.9" y2="315.5" stroke="#1a1a1a" stroke-width="0.9" />
<line x1="302.8" y1="309.0" x2="304.9" y2="309.0" stroke="#1a1a1a" stroke-width="0.9" />
<line x1="302.8" y1="302.5" x2="304.9" y2="302.5" stroke="#1a1a1a" stroke-width="0.9" />
<line x1="301.8" y1="296.0" x2="304.9" y2="296.0" stroke="#1a1a1a" stroke-width="1.0" />
<text x="297.8" y="298.9" font-size="8.4" text-anchor="end" fill="#222" font-weight="normal" stroke="#222" stroke-width="0.12" >80%</text>
<line x1="302.8" y1="289.5" x2="304.9" y2="289.5" stroke="#1a1a1a" stroke-width="0.9" />
<line x1="302.8" y1="283.0" x2="304.9" y2="283.0" stroke="#1a1a1a" stroke-width="0.9" />
<line x1="302.8" y1="276.5" x2="304.9" y2="276.5" stroke="#1a1a1a" stroke-width="0.9" />
<line x1="301.8" y1="270.0" x2="304.9" y2="270.0" stroke="#1a1a1a" stroke-width="1.0" />
<text x="297.8" y="272.9" font-size="8.4" text-anchor="end" fill="#222" font-weight="normal" stroke="#222" stroke-width="0.12" >100%</text>
<line x1="304.9" y1="400.0" x2="304.9" y2="402.8" stroke="#1a1a1a" stroke-width="0.9" />
<line x1="314.55499999999995" y1="400.0" x2="314.55499999999995" y2="402.8" stroke="#1a1a1a" stroke-width="0.9" />
<line x1="324.21" y1="400.0" x2="324.21" y2="402.8" stroke="#1a1a1a" stroke-width="0.9" />
<line x1="333.865" y1="400.0" x2="333.865" y2="402.8" stroke="#1a1a1a" stroke-width="0.9" />
<line x1="343.52" y1="400.0" x2="343.52" y2="402.8" stroke="#1a1a1a" stroke-width="0.9" />
<line x1="353.17499999999995" y1="400.0" x2="353.17499999999995" y2="402.8" stroke="#1a1a1a" stroke-width="0.9" />
<line x1="362.83" y1="400.0" x2="362.83" y2="402.8" stroke="#1a1a1a" stroke-width="0.9" />
<line x1="372.485" y1="400.0" x2="372.485" y2="402.8" stroke="#1a1a1a" stroke-width="0.9" />
<line x1="382.14" y1="400.0" x2="382.14" y2="402.8" stroke="#1a1a1a" stroke-width="0.9" />
<line x1="391.79499999999996" y1="400.0" x2="391.79499999999996" y2="402.8" stroke="#1a1a1a" stroke-width="0.9" />
<line x1="401.45" y1="400.0" x2="401.45" y2="402.8" stroke="#1a1a1a" stroke-width="0.9" />
<line x1="411.105" y1="400.0" x2="411.105" y2="402.8" stroke="#1a1a1a" stroke-width="0.9" />
<line x1="420.76" y1="400.0" x2="420.76" y2="402.8" stroke="#1a1a1a" stroke-width="0.9" />
<line x1="430.41499999999996" y1="400.0" x2="430.41499999999996" y2="402.8" stroke="#1a1a1a" stroke-width="0.9" />
<line x1="440.07" y1="400.0" x2="440.07" y2="402.8" stroke="#1a1a1a" stroke-width="0.9" />
<line x1="449.725" y1="400.0" x2="449.725" y2="402.8" stroke="#1a1a1a" stroke-width="0.9" />
<line x1="459.38" y1="400.0" x2="459.38" y2="402.8" stroke="#1a1a1a" stroke-width="0.9" />
<line x1="469.03499999999997" y1="400.0" x2="469.03499999999997" y2="402.8" stroke="#1a1a1a" stroke-width="0.9" />
<line x1="478.69" y1="400.0" x2="478.69" y2="402.8" stroke="#1a1a1a" stroke-width="0.9" />
<line x1="488.345" y1="400.0" x2="488.345" y2="402.8" stroke="#1a1a1a" stroke-width="0.9" />
<line x1="498.0" y1="400.0" x2="498.0" y2="402.8" stroke="#1a1a1a" stroke-width="0.9" />
<text x="304.9" y="413.6" font-size="8.6" text-anchor="middle" fill="#222" font-weight="normal" stroke="#222" stroke-width="0.12" >0 nM</text>
<text x="353.17499999999995" y="413.6" font-size="8.6" text-anchor="middle" fill="#222" font-weight="normal" stroke="#222" stroke-width="0.12" >50 nM</text>
<text x="401.45" y="413.6" font-size="8.6" text-anchor="middle" fill="#222" font-weight="normal" stroke="#222" stroke-width="0.12" >100 nM</text>
<text x="449.725" y="413.6" font-size="8.6" text-anchor="middle" fill="#222" font-weight="normal" stroke="#222" stroke-width="0.12" >150 nM</text>
<text x="498.0" y="413.6" font-size="8.6" text-anchor="middle" fill="#222" font-weight="normal" stroke="#222" stroke-width="0.12" >200 nM</text>
<text transform="translate(257.8,335.0) rotate(-90)" font-size="9.6" font-weight="bold" text-anchor="middle" fill="#1a1a1a" textLength="63.9" lengthAdjust="spacingAndGlyphs">Cellular proliferation</text>
<text transform="translate(268.8,335.0) rotate(-90)" font-size="9.6" font-weight="bold" text-anchor="middle" fill="#1a1a1a" textLength="80.3" lengthAdjust="spacingAndGlyphs">(normalized to untreated)</text>
<polyline fill="none" stroke="#26407e" stroke-width="1.4" stroke-linejoin="round" points="304.90,270.00 309.73,388.30 314.55,388.95 324.21,388.95 353.17,388.95 401.45,388.95 498.00,389.60"/>
<circle cx="304.90" cy="270.00" r="2.1" fill="#26407e"/>
<circle cx="309.73" cy="388.30" r="2.1" fill="#26407e"/>
<circle cx="314.55" cy="388.95" r="2.1" fill="#26407e"/>
<circle cx="324.21" cy="388.95" r="2.1" fill="#26407e"/>
<circle cx="353.17" cy="388.95" r="2.1" fill="#26407e"/>
<circle cx="401.45" cy="388.95" r="2.1" fill="#26407e"/>
<circle cx="498.00" cy="389.60" r="2.1" fill="#26407e"/>
<polyline fill="none" stroke="#9686cc" stroke-width="1.4" stroke-linejoin="round" points="304.90,270.00 309.73,392.46 314.55,391.94 324.21,390.25 353.17,389.08 401.45,389.08 498.00,389.34"/>
<circle cx="304.90" cy="270.00" r="2.1" fill="#9686cc"/>
<circle cx="309.73" cy="392.46" r="2.1" fill="#9686cc"/>
<circle cx="314.55" cy="391.94" r="2.1" fill="#9686cc"/>
<circle cx="324.21" cy="390.25" r="2.1" fill="#9686cc"/>
<circle cx="353.17" cy="389.08" r="2.1" fill="#9686cc"/>
<circle cx="401.45" cy="389.08" r="2.1" fill="#9686cc"/>
<circle cx="498.00" cy="389.34" r="2.1" fill="#9686cc"/>
<polyline fill="none" stroke="#b1142f" stroke-width="1.4" stroke-linejoin="round" points="304.90,270.00 309.73,387.65 314.55,387.26 324.21,387.91 353.17,388.82 401.45,389.21 498.00,389.86"/>
<circle cx="304.90" cy="270.00" r="2.1" fill="#b1142f"/>
<circle cx="309.73" cy="387.65" r="2.1" fill="#b1142f"/>
<circle cx="314.55" cy="387.26" r="2.1" fill="#b1142f"/>
<circle cx="324.21" cy="387.91" r="2.1" fill="#b1142f"/>
<circle cx="353.17" cy="388.82" r="2.1" fill="#b1142f"/>
<circle cx="401.45" cy="389.21" r="2.1" fill="#b1142f"/>
<circle cx="498.00" cy="389.86" r="2.1" fill="#b1142f"/>
<polyline fill="none" stroke="#5ea8e6" stroke-width="1.4" stroke-linejoin="round" points="304.90,270.00 309.73,384.01 314.55,388.04 324.21,388.69 353.17,388.82 401.45,388.95 498.00,388.56"/>
<circle cx="304.90" cy="270.00" r="2.1" fill="#5ea8e6"/>
<circle cx="309.73" cy="384.01" r="2.1" fill="#5ea8e6"/>
<circle cx="314.55" cy="388.04" r="2.1" fill="#5ea8e6"/>
<circle cx="324.21" cy="388.69" r="2.1" fill="#5ea8e6"/>
<circle cx="353.17" cy="388.82" r="2.1" fill="#5ea8e6"/>
<circle cx="401.45" cy="388.95" r="2.1" fill="#5ea8e6"/>
<circle cx="498.00" cy="388.56" r="2.1" fill="#5ea8e6"/>
<polyline fill="none" stroke="#5bb043" stroke-width="1.4" stroke-linejoin="round" points="304.90,270.00 309.73,330.06 314.55,355.80 324.21,380.76 353.17,387.13 401.45,387.91 498.00,388.56"/>
<circle cx="304.90" cy="270.00" r="2.1" fill="#5bb043"/>
<circle cx="309.73" cy="330.06" r="2.1" fill="#5bb043"/>
<circle cx="314.55" cy="355.80" r="2.1" fill="#5bb043"/>
<circle cx="324.21" cy="380.76" r="2.1" fill="#5bb043"/>
<circle cx="353.17" cy="387.13" r="2.1" fill="#5bb043"/>
<circle cx="401.45" cy="387.91" r="2.1" fill="#5bb043"/>
<circle cx="498.00" cy="388.56" r="2.1" fill="#5bb043"/>
<polyline fill="none" stroke="#e68a22" stroke-width="1.4" stroke-linejoin="round" points="304.90,270.00 309.73,390.90 314.55,391.81 324.21,392.33 353.17,392.46 401.45,392.46 498.00,391.55"/>
<circle cx="304.90" cy="270.00" r="2.1" fill="#e68a22"/>
<circle cx="309.73" cy="390.90" r="2.1" fill="#e68a22"/>
<circle cx="314.55" cy="391.81" r="2.1" fill="#e68a22"/>
<circle cx="324.21" cy="392.33" r="2.1" fill="#e68a22"/>
<circle cx="353.17" cy="392.46" r="2.1" fill="#e68a22"/>
<circle cx="401.45" cy="392.46" r="2.1" fill="#e68a22"/>
<circle cx="498.00" cy="391.55" r="2.1" fill="#e68a22"/>
<line x1="449.8" y1="276.9" x2="462.0" y2="276.9" stroke="#26407e" stroke-width="1.3" />
<circle cx="456.1" cy="276.9" r="1.8" fill="#26407e"/>
<text x="465.8" y="278.9" font-size="5.6" text-anchor="start" fill="#222" font-weight="normal" stroke="#222" stroke-width="0.06" >Midostaurin</text>
<line x1="449.8" y1="286.59999999999997" x2="462.0" y2="286.59999999999997" stroke="#b1142f" stroke-width="1.3" />
<circle cx="456.1" cy="286.59999999999997" r="1.8" fill="#b1142f"/>
<text x="465.8" y="288.59999999999997" font-size="5.6" text-anchor="start" fill="#222" font-weight="normal" stroke="#222" stroke-width="0.06" >Lestaurtinib</text>
<line x1="449.8" y1="296.29999999999995" x2="462.0" y2="296.29999999999995" stroke="#5bb043" stroke-width="1.3" />
<circle cx="456.1" cy="296.29999999999995" r="1.8" fill="#5bb043"/>
<text x="465.8" y="298.29999999999995" font-size="5.6" text-anchor="start" fill="#222" font-weight="normal" stroke="#222" stroke-width="0.06" >Crenolanib</text>
<line x1="449.8" y1="306.0" x2="462.0" y2="306.0" stroke="#9686cc" stroke-width="1.3" />
<circle cx="456.1" cy="306.0" r="1.8" fill="#9686cc"/>
<text x="465.8" y="308.0" font-size="5.6" text-anchor="start" fill="#222" font-weight="normal" stroke="#222" stroke-width="0.06" >Quizartinib</text>
<line x1="449.8" y1="315.7" x2="462.0" y2="315.7" stroke="#5ea8e6" stroke-width="1.3" />
<circle cx="456.1" cy="315.7" r="1.8" fill="#5ea8e6"/>
<text x="465.8" y="317.7" font-size="5.6" text-anchor="start" fill="#222" font-weight="normal" stroke="#222" stroke-width="0.06" >Sorafenib</text>
<line x1="449.8" y1="325.4" x2="462.0" y2="325.4" stroke="#e68a22" stroke-width="1.3" />
<circle cx="456.1" cy="325.4" r="1.8" fill="#e68a22"/>
<text x="465.8" y="327.4" font-size="5.6" text-anchor="start" fill="#222" font-weight="normal" stroke="#222" stroke-width="0.06" >Ponatinib</text>
<line x1="304.9" y1="429.59999999999997" x2="304.9" y2="561.1" stroke="#1a1a1a" stroke-width="1.3" />
<line x1="304.29999999999995" y1="430.2" x2="498.6" y2="430.2" stroke="#1a1a1a" stroke-width="1.2" />
<line x1="498.0" y1="429.59999999999997" x2="498.0" y2="561.1" stroke="#1a1a1a" stroke-width="1.2" />
<line x1="304.29999999999995" y1="560.5" x2="498.6" y2="560.5" stroke="#1a1a1a" stroke-width="1.3" />
<line x1="301.8" y1="560.5" x2="304.9" y2="560.5" stroke="#1a1a1a" stroke-width="1.0" />
<text x="297.8" y="563.4" font-size="8.4" text-anchor="end" fill="#222" font-weight="normal" stroke="#222" stroke-width="0.12" >0%</text>
<line x1="302.8" y1="553.985" x2="304.9" y2="553.985" stroke="#1a1a1a" stroke-width="0.9" />
<line x1="302.8" y1="547.47" x2="304.9" y2="547.47" stroke="#1a1a1a" stroke-width="0.9" />
<line x1="302.8" y1="540.955" x2="304.9" y2="540.955" stroke="#1a1a1a" stroke-width="0.9" />
<line x1="301.8" y1="534.44" x2="304.9" y2="534.44" stroke="#1a1a1a" stroke-width="1.0" />
<text x="297.8" y="537.34" font-size="8.4" text-anchor="end" fill="#222" font-weight="normal" stroke="#222" stroke-width="0.12" >20%</text>
<line x1="302.8" y1="527.925" x2="304.9" y2="527.925" stroke="#1a1a1a" stroke-width="0.9" />
<line x1="302.8" y1="521.41" x2="304.9" y2="521.41" stroke="#1a1a1a" stroke-width="0.9" />
<line x1="302.8" y1="514.895" x2="304.9" y2="514.895" stroke="#1a1a1a" stroke-width="0.9" />
<line x1="301.8" y1="508.38" x2="304.9" y2="508.38" stroke="#1a1a1a" stroke-width="1.0" />
<text x="297.8" y="511.28" font-size="8.4" text-anchor="end" fill="#222" font-weight="normal" stroke="#222" stroke-width="0.12" >40%</text>
<line x1="302.8" y1="501.865" x2="304.9" y2="501.865" stroke="#1a1a1a" stroke-width="0.9" />
<line x1="302.8" y1="495.35" x2="304.9" y2="495.35" stroke="#1a1a1a" stroke-width="0.9" />
<line x1="302.8" y1="488.835" x2="304.9" y2="488.835" stroke="#1a1a1a" stroke-width="0.9" />
<line x1="301.8" y1="482.32" x2="304.9" y2="482.32" stroke="#1a1a1a" stroke-width="1.0" />
<text x="297.8" y="485.21999999999997" font-size="8.4" text-anchor="end" fill="#222" font-weight="normal" stroke="#222" stroke-width="0.12" >60%</text>
<line x1="302.8" y1="475.805" x2="304.9" y2="475.805" stroke="#1a1a1a" stroke-width="0.9" />
<line x1="302.8" y1="469.28999999999996" x2="304.9" y2="469.28999999999996" stroke="#1a1a1a" stroke-width="0.9" />
<line x1="302.8" y1="462.775" x2="304.9" y2="462.775" stroke="#1a1a1a" stroke-width="0.9" />
<line x1="301.8" y1="456.26" x2="304.9" y2="456.26" stroke="#1a1a1a" stroke-width="1.0" />
<text x="297.8" y="459.15999999999997" font-size="8.4" text-anchor="end" fill="#222" font-weight="normal" stroke="#222" stroke-width="0.12" >80%</text>
<line x1="302.8" y1="449.745" x2="304.9" y2="449.745" stroke="#1a1a1a" stroke-width="0.9" />
<line x1="302.8" y1="443.23" x2="304.9" y2="443.23" stroke="#1a1a1a" stroke-width="0.9" />
<line x1="302.8" y1="436.715" x2="304.9" y2="436.715" stroke="#1a1a1a" stroke-width="0.9" />
<line x1="301.8" y1="430.2" x2="304.9" y2="430.2" stroke="#1a1a1a" stroke-width="1.0" />
<text x="297.8" y="433.09999999999997" font-size="8.4" text-anchor="end" fill="#222" font-weight="normal" stroke="#222" stroke-width="0.12" >100%</text>
<line x1="304.9" y1="560.5" x2="304.9" y2="563.3" stroke="#1a1a1a" stroke-width="0.9" />
<line x1="314.55499999999995" y1="560.5" x2="314.55499999999995" y2="563.3" stroke="#1a1a1a" stroke-width="0.9" />
<line x1="324.21" y1="560.5" x2="324.21" y2="563.3" stroke="#1a1a1a" stroke-width="0.9" />
<line x1="333.865" y1="560.5" x2="333.865" y2="563.3" stroke="#1a1a1a" stroke-width="0.9" />
<line x1="343.52" y1="560.5" x2="343.52" y2="563.3" stroke="#1a1a1a" stroke-width="0.9" />
<line x1="353.17499999999995" y1="560.5" x2="353.17499999999995" y2="563.3" stroke="#1a1a1a" stroke-width="0.9" />
<line x1="362.83" y1="560.5" x2="362.83" y2="563.3" stroke="#1a1a1a" stroke-width="0.9" />
<line x1="372.485" y1="560.5" x2="372.485" y2="563.3" stroke="#1a1a1a" stroke-width="0.9" />
<line x1="382.14" y1="560.5" x2="382.14" y2="563.3" stroke="#1a1a1a" stroke-width="0.9" />
<line x1="391.79499999999996" y1="560.5" x2="391.79499999999996" y2="563.3" stroke="#1a1a1a" stroke-width="0.9" />
<line x1="401.45" y1="560.5" x2="401.45" y2="563.3" stroke="#1a1a1a" stroke-width="0.9" />
<line x1="411.105" y1="560.5" x2="411.105" y2="563.3" stroke="#1a1a1a" stroke-width="0.9" />
<line x1="420.76" y1="560.5" x2="420.76" y2="563.3" stroke="#1a1a1a" stroke-width="0.9" />
<line x1="430.41499999999996" y1="560.5" x2="430.41499999999996" y2="563.3" stroke="#1a1a1a" stroke-width="0.9" />
<line x1="440.07" y1="560.5" x2="440.07" y2="563.3" stroke="#1a1a1a" stroke-width="0.9" />
<line x1="449.725" y1="560.5" x2="449.725" y2="563.3" stroke="#1a1a1a" stroke-width="0.9" />
<line x1="459.38" y1="560.5" x2="459.38" y2="563.3" stroke="#1a1a1a" stroke-width="0.9" />
<line x1="469.03499999999997" y1="560.5" x2="469.03499999999997" y2="563.3" stroke="#1a1a1a" stroke-width="0.9" />
<line x1="478.69" y1="560.5" x2="478.69" y2="563.3" stroke="#1a1a1a" stroke-width="0.9" />
<line x1="488.345" y1="560.5" x2="488.345" y2="563.3" stroke="#1a1a1a" stroke-width="0.9" />
<line x1="498.0" y1="560.5" x2="498.0" y2="563.3" stroke="#1a1a1a" stroke-width="0.9" />
<text x="304.9" y="574.1" font-size="8.6" text-anchor="middle" fill="#222" font-weight="normal" stroke="#222" stroke-width="0.12" >0 nM</text>
<text x="353.17499999999995" y="574.1" font-size="8.6" text-anchor="middle" fill="#222" font-weight="normal" stroke="#222" stroke-width="0.12" >50 nM</text>
<text x="401.45" y="574.1" font-size="8.6" text-anchor="middle" fill="#222" font-weight="normal" stroke="#222" stroke-width="0.12" >100 nM</text>
<text x="449.725" y="574.1" font-size="8.6" text-anchor="middle" fill="#222" font-weight="normal" stroke="#222" stroke-width="0.12" >150 nM</text>
<text x="498.0" y="574.1" font-size="8.6" text-anchor="middle" fill="#222" font-weight="normal" stroke="#222" stroke-width="0.12" >200 nM</text>
<text transform="translate(257.8,495.35) rotate(-90)" font-size="9.6" font-weight="bold" text-anchor="middle" fill="#1a1a1a" textLength="63.9" lengthAdjust="spacingAndGlyphs">Cellular proliferation</text>
<text transform="translate(268.8,495.35) rotate(-90)" font-size="9.6" font-weight="bold" text-anchor="middle" fill="#1a1a1a" textLength="80.3" lengthAdjust="spacingAndGlyphs">(normalized to untreated)</text>
<polyline fill="none" stroke="#6b4423" stroke-width="1.4" stroke-linejoin="round" points="304.90,430.20 309.73,550.08 314.55,552.03 324.21,553.99 353.17,553.33 401.45,552.68 498.00,551.64"/>
<circle cx="304.90" cy="430.20" r="2.1" fill="#6b4423"/>
<circle cx="309.73" cy="550.08" r="2.1" fill="#6b4423"/>
<circle cx="314.55" cy="552.03" r="2.1" fill="#6b4423"/>
<circle cx="324.21" cy="553.99" r="2.1" fill="#6b4423"/>
<circle cx="353.17" cy="553.33" r="2.1" fill="#6b4423"/>
<circle cx="401.45" cy="552.68" r="2.1" fill="#6b4423"/>
<circle cx="498.00" cy="551.64" r="2.1" fill="#6b4423"/>
<polyline fill="none" stroke="#2c5697" stroke-width="1.4" stroke-linejoin="round" points="304.90,430.20 309.73,517.50 314.55,538.35 324.21,550.08 353.17,552.68 401.45,552.94 498.00,552.03"/>
<circle cx="304.90" cy="430.20" r="2.1" fill="#2c5697"/>
<circle cx="309.73" cy="517.50" r="2.1" fill="#2c5697"/>
<circle cx="314.55" cy="538.35" r="2.1" fill="#2c5697"/>
<circle cx="324.21" cy="550.08" r="2.1" fill="#2c5697"/>
<circle cx="353.17" cy="552.68" r="2.1" fill="#2c5697"/>
<circle cx="401.45" cy="552.94" r="2.1" fill="#2c5697"/>
<circle cx="498.00" cy="552.03" r="2.1" fill="#2c5697"/>
<polyline fill="none" stroke="#5cb043" stroke-width="1.4" stroke-linejoin="round" points="304.90,430.20 309.73,552.68 314.55,552.94 324.21,553.33 353.17,552.42 401.45,551.64 498.00,551.64"/>
<circle cx="304.90" cy="430.20" r="2.1" fill="#5cb043"/>
<circle cx="309.73" cy="552.68" r="2.1" fill="#5cb043"/>
<circle cx="314.55" cy="552.94" r="2.1" fill="#5cb043"/>
<circle cx="324.21" cy="553.33" r="2.1" fill="#5cb043"/>
<circle cx="353.17" cy="552.42" r="2.1" fill="#5cb043"/>
<circle cx="401.45" cy="551.64" r="2.1" fill="#5cb043"/>
<circle cx="498.00" cy="551.64" r="2.1" fill="#5cb043"/>
<polyline fill="none" stroke="#5a1f6e" stroke-width="1.4" stroke-linejoin="round" points="304.90,430.20 309.73,464.08 314.55,477.76 324.21,504.86 353.17,540.96 401.45,547.73 498.00,550.73"/>
<circle cx="304.90" cy="430.20" r="2.1" fill="#5a1f6e"/>
<circle cx="309.73" cy="464.08" r="2.1" fill="#5a1f6e"/>
<circle cx="314.55" cy="477.76" r="2.1" fill="#5a1f6e"/>
<circle cx="324.21" cy="504.86" r="2.1" fill="#5a1f6e"/>
<circle cx="353.17" cy="540.96" r="2.1" fill="#5a1f6e"/>
<circle cx="401.45" cy="547.73" r="2.1" fill="#5a1f6e"/>
<circle cx="498.00" cy="550.73" r="2.1" fill="#5a1f6e"/>
<polyline fill="none" stroke="#4a5870" stroke-width="1.4" stroke-linejoin="round" points="304.90,430.20 309.73,455.61 314.55,465.90 324.21,495.35 353.17,531.05 401.45,546.17 498.00,549.82"/>
<circle cx="304.90" cy="430.20" r="2.1" fill="#4a5870"/>
<circle cx="309.73" cy="455.61" r="2.1" fill="#4a5870"/>
<circle cx="314.55" cy="465.90" r="2.1" fill="#4a5870"/>
<circle cx="324.21" cy="495.35" r="2.1" fill="#4a5870"/>
<circle cx="353.17" cy="531.05" r="2.1" fill="#4a5870"/>
<circle cx="401.45" cy="546.17" r="2.1" fill="#4a5870"/>
<circle cx="498.00" cy="549.82" r="2.1" fill="#4a5870"/>
<line x1="451.5" y1="436.9" x2="463.7" y2="436.9" stroke="#2c5697" stroke-width="1.3" />
<circle cx="457.8" cy="436.9" r="1.8" fill="#2c5697"/>
<text x="467.5" y="438.9" font-size="5.6" text-anchor="start" fill="#222" font-weight="normal" stroke="#222" stroke-width="0.06" >Sunitinib</text>
<line x1="451.5" y1="446.59999999999997" x2="463.7" y2="446.59999999999997" stroke="#6b4423" stroke-width="1.3" />
<circle cx="457.8" cy="446.59999999999997" r="1.8" fill="#6b4423"/>
<text x="467.5" y="448.59999999999997" font-size="5.6" text-anchor="start" fill="#222" font-weight="normal" stroke="#222" stroke-width="0.06" >Linifanib</text>
<line x1="451.5" y1="456.29999999999995" x2="463.7" y2="456.29999999999995" stroke="#5cb043" stroke-width="1.3" />
<circle cx="457.8" cy="456.29999999999995" r="1.8" fill="#5cb043"/>
<text x="467.5" y="458.29999999999995" font-size="5.6" text-anchor="start" fill="#222" font-weight="normal" stroke="#222" stroke-width="0.06" >CEP-5214</text>
<line x1="451.5" y1="466.0" x2="463.7" y2="466.0" stroke="#5a1f6e" stroke-width="1.3" />
<circle cx="457.8" cy="466.0" r="1.8" fill="#5a1f6e"/>
<text x="467.5" y="468.0" font-size="5.6" text-anchor="start" fill="#222" font-weight="normal" stroke="#222" stroke-width="0.06" >Tamatinib</text>
<line x1="451.5" y1="475.7" x2="463.7" y2="475.7" stroke="#4a5870" stroke-width="1.3" />
<circle cx="457.8" cy="475.7" r="1.8" fill="#4a5870"/>
<text x="467.5" y="477.7" font-size="5.6" text-anchor="start" fill="#222" font-weight="normal" stroke="#222" stroke-width="0.06" >KW-2449</text>
<text x="371.6" y="587.7" font-size="9.6" text-anchor="start" fill="#1a1a1a" font-weight="bold" textLength="59.6" lengthAdjust="spacingAndGlyphs">Drug concentration</text></svg>
</body></html>
